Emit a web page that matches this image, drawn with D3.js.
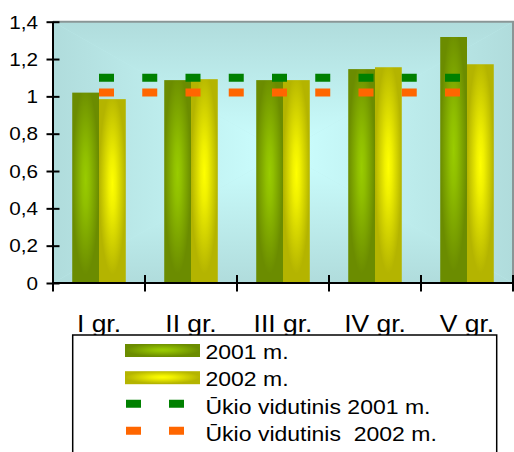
<!DOCTYPE html>
<html>
<head>
<meta charset="utf-8">
<script src="https://cdn.jsdelivr.net/npm/d3@7"></script>
<style>
  html, body { margin: 0; padding: 0; background: #fff; }
  svg { display: block; }
  text { font-family: "Liberation Sans", Arial, sans-serif; fill: #000; white-space: pre; }
</style>
</head>
<body>
<div id="chart"></div>
<script>
// Data
const categories = ["I gr.", "II gr.", "III gr.", "IV gr.", "V gr."];
const values2001 = [1.02, 1.087, 1.087, 1.146, 1.318];
const values2002 = [0.985, 1.092, 1.087, 1.156, 1.172];
const avg2001 = [1.10, 1.10, 1.10, 1.10, 1.10];
const avg2002 = [1.02, 1.02, 1.02, 1.02, 1.02];
const yTicks = [0, 0.2, 0.4, 0.6, 0.8, 1, 1.2, 1.4];
const seriesNames = ["2001 m.", "2002 m.", "Ūkio vidutinis 2001 m.", "Ūkio vidutinis  2002 m."];

const W = 514, H = 452;
const plot = { left: 53, right: 513, top: 21.7, bottom: 283 };
const stretch = 1.15; // horizontal text widening

const svg = d3.select("#chart").append("svg")
  .attr("width", W).attr("height", H);
const defs = svg.append("defs");

// Bar fills: bright centre fading to darker edges
function barGradient(id, centre, edge) {
  const g = defs.append("radialGradient").attr("id", id)
    .attr("cx", 0.5).attr("cy", 0.46).attr("r", 0.55);
  g.append("stop").attr("offset", 0).attr("stop-color", centre);
  g.append("stop").attr("offset", 0.25).attr("stop-color", d3.interpolateRgb(centre, edge)(0.2));
  g.append("stop").attr("offset", 0.9).attr("stop-color", edge);
  g.append("stop").attr("offset", 1).attr("stop-color", edge);
}
barGradient("g2001", "#99cc00", "#6b8c00");
barGradient("g2002", "#ffff00", "#b4b400");
const barFill = ["url(#g2001)", "url(#g2002)"];

// Scales
const x0 = d3.scaleBand().domain(categories)
  .range([plot.left, plot.right])
  .paddingInner(0.418).paddingOuter(0.209);
const x1 = d3.scaleBand().domain([0, 1]).range([0, x0.bandwidth()]);
const y = d3.scaleLinear().domain([0, 1.4]).range([plot.bottom, plot.top]);

// Plot background: rectangular gradient from the centre
(function background() {
  const L = plot.left, R = plot.right, T = plot.top, B = plot.bottom;
  const cx = (L + R) / 2, cy = (T + B) / 2;
  const edge = "#b0dcdc", centre = "#ccffff";
  svg.append("rect").attr("x", L).attr("y", T).attr("width", R - L).attr("height", B - T)
    .attr("fill", "#bfeeee");
  const parts = [
    { id: "bgT", pts: [[L, T], [R, T], [cx, cy]], g: [cx, T, cx, cy] },
    { id: "bgB", pts: [[L, B], [R, B], [cx, cy]], g: [cx, B, cx, cy] },
    { id: "bgL", pts: [[L, T], [L, B], [cx, cy]], g: [L, cy, cx, cy] },
    { id: "bgR", pts: [[R, T], [R, B], [cx, cy]], g: [R, cy, cx, cy] }
  ];
  parts.forEach(p => {
    const lg = defs.append("linearGradient").attr("id", p.id)
      .attr("gradientUnits", "userSpaceOnUse")
      .attr("x1", p.g[0]).attr("y1", p.g[1]).attr("x2", p.g[2]).attr("y2", p.g[3]);
    lg.append("stop").attr("offset", 0).attr("stop-color", edge);
    lg.append("stop").attr("offset", 1).attr("stop-color", centre);
    svg.append("path").attr("d", "M" + p.pts.join("L") + "Z").attr("fill", `url(#${p.id})`);
  });
  // grey frame on top and right
  svg.append("path")
    .attr("d", `M${L},${T}H${R}V${B}`)
    .attr("fill", "none").attr("stroke", "#8a9696").attr("stroke-width", 2);
})();

// Bars
const barData = categories.map((c, i) => ({ c, vals: [values2001[i], values2002[i]] }));
svg.append("g").selectAll("g").data(barData).join("g")
  .attr("transform", d => `translate(${x0(d.c)},0)`)
  .selectAll("rect").data(d => d.vals.map((v, s) => ({ v, s }))).join("rect")
  .attr("x", d => x1(d.s))
  .attr("y", d => y(d.v))
  .attr("width", x1.bandwidth())
  .attr("height", d => y(0) - y(d.v))
  .attr("fill", d => barFill[d.s]);

// Farm average lines (dashed)
const dash = "15 28.25";
const lineGen = d3.line()
  .x((d, i) => x0(categories[i]) + x0.bandwidth() / 2)
  .y(d => y(d));
[[avg2001, "#008000"], [avg2002, "#ff6600"]].forEach(([vals, col]) => {
  svg.append("path").datum(vals)
    .attr("d", lineGen)
    .attr("fill", "none").attr("stroke", col)
    .attr("stroke-width", 8).attr("stroke-dasharray", dash);
});

// Y axis
const yAxis = svg.append("g").attr("transform", `translate(${plot.left},0)`)
  .call(d3.axisLeft(y).tickValues(yTicks)
    .tickFormat(d => String(d).replace(".", ",")).tickSizeOuter(0));
yAxis.select(".domain").attr("stroke", "#000").attr("stroke-width", 2)
  .attr("d", `M0,${plot.bottom + 8.5}V${plot.top}`);
yAxis.selectAll(".tick line").attr("x1", -6.5).attr("x2", 6.5)
  .attr("stroke", "#000").attr("stroke-width", 2);
yAxis.selectAll(".tick text")
  .attr("x", null).attr("dy", "0.35em")
  .attr("transform", `translate(-15,0) scale(${stretch},1)`)
  .attr("text-anchor", "end")
  .style("font-size", "18px").style("font-family", "'Liberation Sans', Arial, sans-serif");

// X axis
const step = x0.step();
const boundaries = categories.map(c => x0(c) - (step - x0.bandwidth()) / 2);
boundaries.push(plot.right);
const xAxis = svg.append("g");
xAxis.append("line")
  .attr("x1", plot.left).attr("x2", plot.right)
  .attr("y1", plot.bottom).attr("y2", plot.bottom)
  .attr("stroke", "#000").attr("stroke-width", 2);
xAxis.selectAll("line.tk").data(boundaries.slice(1)).join("line")
  .attr("class", "tk")
  .attr("x1", d => d).attr("x2", d => d)
  .attr("y1", plot.bottom - 8).attr("y2", plot.bottom + 8.5)
  .attr("stroke", "#000").attr("stroke-width", 2);
xAxis.selectAll("text").data(categories).join("text")
  .attr("transform", d => `translate(${x0(d) + x0.bandwidth() / 2},331.5) scale(${stretch},1)`)
  .attr("text-anchor", "middle")
  .style("font-size", "23px")
  .text(d => d);

// Legend
const legend = svg.append("g");
legend.append("rect")
  .attr("x", 72.7).attr("y", 335).attr("width", 424).attr("height", 140)
  .attr("fill", "#fff").attr("stroke", "#000").attr("stroke-width", 1.5);
const rowBase = [358.5, 385.7, 413.8, 440.8];
// swatches for the bar series
[0, 1].forEach(s => {
  legend.append("rect")
    .attr("x", 125).attr("y", rowBase[s] - 14.5).attr("width", 75).attr("height", 13)
    .attr("fill", barFill[s]);
});
// swatches for the dashed series
[["#008000", 2], ["#ff6600", 3]].forEach(([col, r]) => {
  legend.append("path")
    .attr("d", `M126,${rowBase[r] - 10}H200`)
    .attr("stroke", col).attr("stroke-width", 8).attr("stroke-dasharray", "15 28");
});
legend.selectAll("text").data(seriesNames).join("text")
  .attr("transform", (d, i) => `translate(205.5,${rowBase[i]}) scale(${stretch},1)`)
  .style("font-size", "20px")
  .text(d => d);
</script>
</body>
</html>
